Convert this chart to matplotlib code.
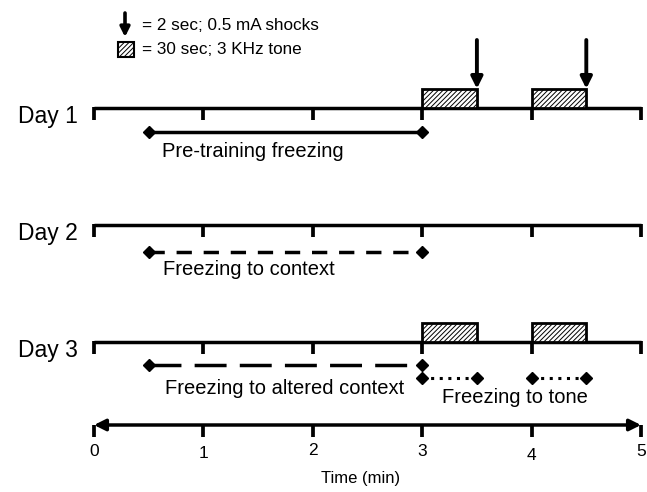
import matplotlib
matplotlib.use('Agg')
import matplotlib.pyplot as plt
from matplotlib.patches import Rectangle

plt.rcParams['font.family'] = ['Liberation Sans', 'DejaVu Sans']
plt.rcParams['lines.scale_dashes'] = False
plt.rcParams['hatch.linewidth'] = 0.7

# ---------------- data ----------------
days = ['Day 1', 'Day 2', 'Day 3']
minute_ticks = [0, 1, 2, 3, 4, 5]
tick_labels = ['0', '1', '2', '3', '4', '5']
session_end = 5
tone_onsets = {'Day 1': [3, 4], 'Day 2': [], 'Day 3': [3, 4]}
tone_duration = 0.5
shock_times = {'Day 1': [3.5, 4.5], 'Day 2': [], 'Day 3': []}
pretraining_window = [0.5, 3]
context_window = [0.5, 3]
altered_context_window = [0.5, 3]
tone_windows = [[3, 3.5], [4, 4.5]]
legend_texts = ['= 2 sec; 0.5 mA shocks', '= 30 sec; 3 KHz tone']
xlabel = 'Time (min)'

# ---------------- layout (pixel rows, inverted y) ----------------
X0, PPM = 94.0, 109.4
def px(x):
    return (x - X0) / PPM

day_y = {'Day 1': 107.7, 'Day 2': 225.0, 'Day 3': 341.5}
axis_y = 425
tick_label_y = [451, 453.5, 450.5, 452, 456, 452]

fig = plt.figure(figsize=(6.47, 4.92), dpi=100)
ax = fig.add_axes([0, 0, 1, 1])
ax.set_xlim(px(0), px(647))
ax.set_ylim(492, 0)
ax.axis('off')

K = 'black'
for d in days:
    y = day_y[d]
    ax.plot([0, session_end], [y, y], color=K, lw=2.5, solid_capstyle='butt', zorder=2)
    for t in minute_ticks:
        ax.plot([t, t], [y - 1, y + 12], color=K, lw=2.7, solid_capstyle='butt', zorder=2)
    ax.text(px(78), y + 15, d, ha='right', va='baseline', fontsize=16.5)
    for t0 in tone_onsets[d]:
        ax.add_patch(Rectangle((t0, y - 19), tone_duration, 19, facecolor='white',
                               edgecolor=K, lw=2.0, hatch='///////', zorder=3))
    for s in shock_times[d]:
        ax.annotate('', xy=(s, y - 19), xytext=(s, 40),
                    arrowprops=dict(arrowstyle='-|>', color=K, lw=2.8,
                                    mutation_scale=17, shrinkA=0, shrinkB=0), zorder=4)

# freezing measures
ax.plot(pretraining_window, [131.7, 131.7], color=K, lw=2.5, marker='D', ms=6.5,
        solid_capstyle='butt')
ax.text(0.625, 157, 'Pre-training freezing', ha='left', va='baseline', fontsize=14.5)

ax.plot(context_window, [251.7, 251.7], color=K, lw=2.5, marker='D', ms=6.5,
        linestyle=(0, (11, 8.5)), dash_capstyle='butt')
ax.text(0.63, 275, 'Freezing to context', ha='left', va='baseline', fontsize=14.5)

ax.plot(altered_context_window, [364.5, 364.5], color=K, lw=2.5, marker='D', ms=6.5,
        linestyle=(0, (23, 9.5)), dash_capstyle='butt')
ax.text(0.65, 394, 'Freezing to altered context', ha='left', va='baseline', fontsize=14.5)

for w in tone_windows:
    ax.plot(w, [377.7, 377.7], color=K, lw=2.2, marker='D', ms=6.5,
            linestyle=(0, (2.2, 4.0)), dash_capstyle='butt')
ax.text(4.515, 403, 'Freezing to tone', ha='right', va='baseline', fontsize=14.5)

# time axis
ax.annotate('', xy=(0, axis_y), xytext=(session_end, axis_y),
            arrowprops=dict(arrowstyle='<|-|>', color=K, lw=2.5,
                            mutation_scale=17, shrinkA=0, shrinkB=0))
for t, lab, ly in zip(minute_ticks, tick_labels, tick_label_y):
    ax.plot([t, t], [axis_y, axis_y + 12], color=K, lw=2.7, solid_capstyle='butt')
    ax.text(t, ly, lab, ha='center', va='center', fontsize=12.5)
ax.text(px(361), 478, xlabel, ha='center', va='center', fontsize=12)

# legend
ax.annotate('', xy=(px(125), 37), xytext=(px(125), 13),
            arrowprops=dict(arrowstyle='-|>', color=K, lw=2.6,
                            mutation_scale=14, shrinkA=0, shrinkB=0))
ax.text(px(142), 25, legend_texts[0], ha='left', va='center', fontsize=12.3)
ax.add_patch(Rectangle((px(118), 42), px(134) - px(118), 15, facecolor='white',
                       edgecolor=K, lw=1.5, hatch='///////'))
ax.text(px(142), 49, legend_texts[1], ha='left', va='center', fontsize=12.3)

fig.savefig('out.png', dpi=100)
